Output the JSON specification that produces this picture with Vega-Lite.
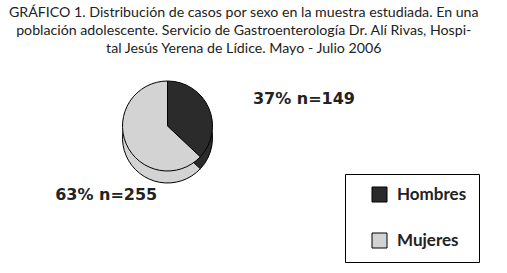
{
  "$schema": "https://vega.github.io/schema/vega-lite/v6.json",
  "width": 335,
  "height": 128,
  "autosize": {"type": "none"},
  "padding": {"left": 0, "top": 62, "right": 172, "bottom": 83},
  "background": "white",
  "title": {
    "text": [
      "GRÁFICO 1. Distribución de casos por sexo en la muestra estudiada. En una",
      "población adolescente. Servicio de Gastroenterología Dr. Alí Rivas, Hospi-",
      "tal Jesús Yerena de Lídice. Mayo - Julio 2006"
    ],
    "font": "Lato",
    "fontSize": 14.2,
    "fontWeight": "normal",
    "lineHeight": 18,
    "anchor": "middle",
    "frame": "bounds",
    "offset": 6,
    "dx": 4,
    "color": "#222222"
  },
  "data": {
    "values": [
      {"sexo": "Hombres", "pct": 37, "n": 149, "etiqueta": "37% n=149"},
      {"sexo": "Mujeres", "pct": 63, "n": 255, "etiqueta": "63% n=255"}
    ]
  },
  "encoding": {
    "theta": {"field": "pct", "type": "quantitative", "stack": true},
    "color": {
      "field": "sexo",
      "type": "nominal",
      "scale": {"domain": ["Hombres", "Mujeres"], "range": ["#2b2b2b", "#d3d3d3"]},
      "legend": {
        "orient": "none",
        "legendX": 345,
        "legendY": 112,
        "title": null,
        "padding": 12,
        "symbolOffset": 14,
        "symbolType": "square",
        "symbolSize": 225,
        "symbolStrokeColor": "black",
        "symbolStrokeWidth": 1,
        "symbolOpacity": 1,
        "labelFont": "Lato",
        "labelFontSize": 17,
        "labelFontWeight": "bold",
        "labelColor": "#222222",
        "labelOffset": 9,
        "rowPadding": 27,
        "strokeColor": "black",
        "labelExpr": "datum.label + '       '"
      }
    }
  },
  "layer": [
    {"mark": {"type": "arc", "radius": 45, "yOffset": 12, "stroke": "black", "strokeWidth": 1}},
    {"mark": {"type": "arc", "radius": 45, "stroke": "black", "strokeWidth": 1}},
    {
      "transform": [{"filter": "datum.sexo == 'Hombres'"}],
      "mark": {"type": "text", "radius": 80, "font": "DejaVu Sans", "fontSize": 16, "fontWeight": "bold", "align": "left", "baseline": "middle", "dx": 12, "dy": 5, "color": "#222222"},
      "encoding": {"text": {"field": "etiqueta"}, "color": {"value": "#222222"}}
    },
    {
      "transform": [{"filter": "datum.sexo == 'Mujeres'"}],
      "mark": {"type": "text", "radius": 80, "font": "DejaVu Sans", "fontSize": 16, "fontWeight": "bold", "align": "center", "baseline": "middle", "dx": -3, "dy": 14, "color": "#222222"},
      "encoding": {"theta": {"field": "pct", "type": "quantitative", "stack": null}, "text": {"field": "etiqueta"}, "color": {"value": "#222222"}}
    }
  ]
}
